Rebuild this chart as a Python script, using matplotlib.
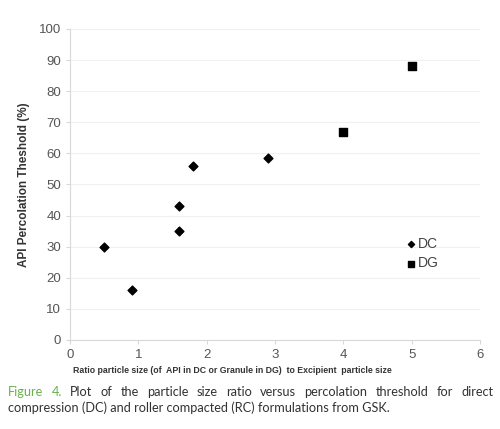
import matplotlib
matplotlib.use("Agg")
import matplotlib.pyplot as plt

# Datos
dc_x = [0.5, 0.9, 1.6, 1.6, 1.8, 2.9]
dc_y = [30, 16, 43, 35, 56, 58.5]
dg_x = [4, 5]
dg_y = [67, 88]

x_ticks = [0, 1, 2, 3, 4, 5, 6]
y_ticks = [0, 10, 20, 30, 40, 50, 60, 70, 80, 90, 100]

plt.rcParams['font.family'] = ['Liberation Sans', 'DejaVu Sans']

fig = plt.figure(figsize=(5, 4.29), dpi=100)
ax = fig.add_axes([0.14, 0.2075, 0.82, 0.725])

ax.scatter(dc_x, dc_y, marker='D', s=20, color='black', label='DC', zorder=3)
ax.scatter(dg_x, dg_y, marker='s', s=28, color='black', label='DG', zorder=3)

ax.set_xlim(0, 6)
ax.set_ylim(0, 100)
ax.set_xticks(x_ticks)
ax.set_yticks(y_ticks)
ax.tick_params(colors='#d8d8d8', labelcolor='#555555', labelsize=9.5, length=3, width=0.8)
ax.yaxis.grid(True, color='#f0f0f0', linewidth=0.8)
ax.set_axisbelow(True)
for side in ['top', 'right']:
    ax.spines[side].set_visible(False)
for side in ['left', 'bottom']:
    ax.spines[side].set_color('#d8d8d8')

ax.set_ylabel('API Percolation Theshold (%)', fontsize=8.5, fontweight='bold', color='#333333', labelpad=6)
ax.set_xlabel('Ratio particle size (of  API in DC or Granule in DG)  to Excipient  particle size',
              fontsize=6.3, fontweight='bold', color='#333333')
ax.xaxis.set_label_coords(0.395, -0.085)

ax.legend(loc='upper left', bbox_to_anchor=(0.8, 0.35), frameon=False, fontsize=10,
          handletextpad=0.05, labelspacing=0.4, borderaxespad=0, handlelength=1,
          markerscale=0.7, labelcolor='#444444')

# Leyenda de la figura (primera linea justificada)
cap_font = ['Lato', 'DejaVu Sans']
cap_size = 9.2
linea1 = [('Figure', '#6ab04c'), ('4.', '#6ab04c'), ('Plot', '#333333'), ('of', '#333333'),
          ('the', '#333333'), ('particle', '#333333'), ('size', '#333333'), ('ratio', '#333333'),
          ('versus', '#333333'), ('percolation', '#333333'), ('threshold', '#333333'),
          ('for', '#333333'), ('direct', '#333333')]
x_ini, x_fin = 8, 493
renderer = fig.canvas.get_renderer()
textos = [fig.text(0, 0.078, w, color=c, fontsize=cap_size, family=cap_font) for w, c in linea1]
anchos = [t.get_window_extent(renderer).width for t in textos]
hueco = (x_fin - x_ini - sum(anchos)) / (len(textos) - 1)
x = x_ini
for t, w in zip(textos, anchos):
    t.set_x(x / fig.bbox.width)
    x += w + hueco

fig.text(x_ini / fig.bbox.width, 0.040, 'compression (DC) and roller compacted (RC) formulations from GSK.',
         color='#333333', fontsize=cap_size, family=cap_font)

fig.savefig('out.png', dpi=100)
